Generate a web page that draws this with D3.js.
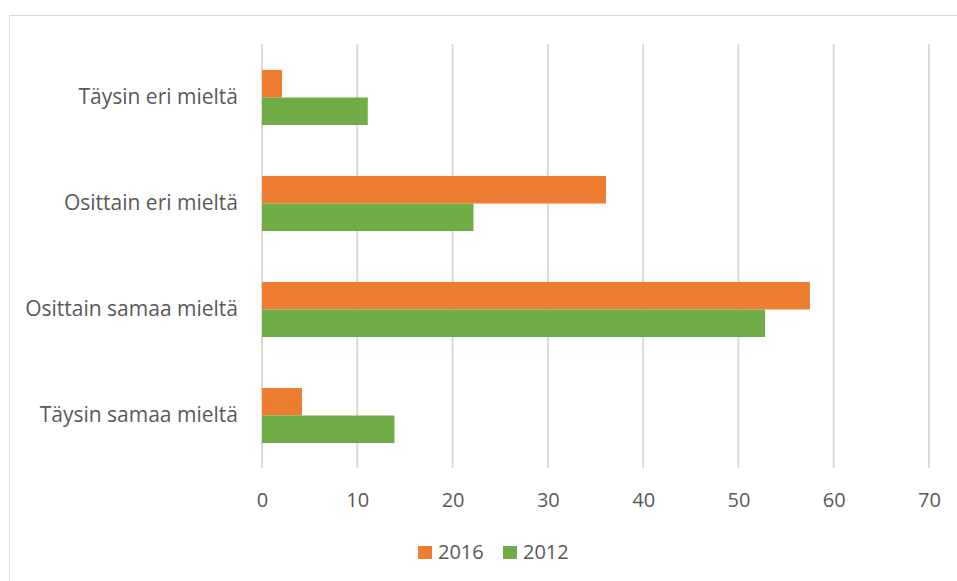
<!DOCTYPE html>
<html><head><meta charset="utf-8">
<script src="https://cdn.jsdelivr.net/npm/d3@7"></script>
<style>body{margin:0;background:#fff}svg{display:block}text{font-family:"Open Sans",sans-serif;fill:#595959}</style>
</head><body>
<svg id="c" width="957" height="581"></svg>
<script>
const categories = ["Täysin eri mieltä","Osittain eri mieltä","Osittain samaa mieltä","Täysin samaa mieltä"];
const seriesNames = ["2016","2012"];
const values2016 = [2.1, 36.1, 57.5, 4.2];
const values2012 = [11.1, 22.2, 52.8, 13.9];
const xTicks = [0,10,20,30,40,50,60,70];
const colors = ["#ED7D31","#70AD47"];

const svg = d3.select("#c");
svg.append("rect").attr("x",9.5).attr("y",15.5).attr("width",960).attr("height",600)
  .attr("fill","none").attr("stroke","#d9d9d9").attr("stroke-width",1);

const x = d3.scaleLinear().domain([0,70]).range([262,929]);
const y = d3.scaleBand().domain(categories).range([44.5,468.5]).paddingInner(0.48).paddingOuter(0.24);
const sub = d3.scaleBand().domain(seriesNames).range([0,y.bandwidth()]);

const grid = svg.append("g");
grid.selectAll("line").data(xTicks).join("line")
  .attr("x1",d=>x(d)).attr("x2",d=>x(d)).attr("y1",44).attr("y2",468)
  .attr("stroke","#d9d9d9").attr("stroke-width",2);

const data = categories.map((c,i)=>({c, v:[values2016[i],values2012[i]]}));
const g = svg.append("g").selectAll("g").data(data).join("g")
  .attr("transform",d=>`translate(0,${y(d.c)})`);
g.selectAll("rect").data(d=>d.v.map((v,j)=>({v,s:seriesNames[j],j}))).join("rect")
  .attr("x",x(0)).attr("y",d=>sub(d.s)).attr("width",d=>x(d.v)-x(0)).attr("height",sub.bandwidth())
  .attr("fill",d=>colors[d.j]);

const xa = svg.append("g").attr("transform","translate(0,468)")
  .call(d3.axisBottom(x).tickValues(xTicks).tickSize(0).tickPadding(25));
xa.select(".domain").remove();
xa.selectAll("text").style("font-size","20px").style("font-family",'"Open Sans",sans-serif').attr("fill","#595959");

const ya = svg.append("g").attr("transform","translate(262,0)")
  .call(d3.axisLeft(y).tickSize(0).tickPadding(24));
ya.select(".domain").remove();
ya.selectAll("text").style("font-size","21px").style("font-family",'"Open Sans",sans-serif').attr("fill","#595959");

const leg = svg.append("g");
const legX = [418, 503];
seriesNames.forEach((s,i)=>{
  leg.append("rect").attr("x",legX[i]).attr("y",546).attr("width",14).attr("height",13).attr("fill",colors[i]);
  leg.append("text").attr("x",legX[i]+20).attr("y",559).style("font-size","20px").text(s);
});
</script>
</body></html>
